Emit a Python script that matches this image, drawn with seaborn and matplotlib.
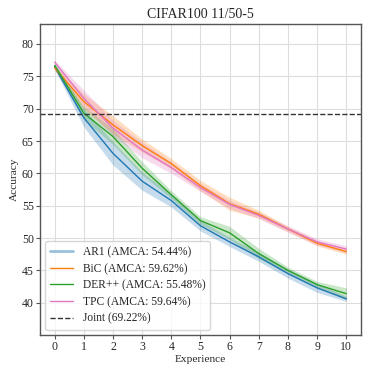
import numpy as np
import pandas as pd
import matplotlib
matplotlib.use("Agg")
import matplotlib.pyplot as plt
import seaborn as sns

# データ
experience = list(range(11))
methods = ["AR1", "BiC", "DER++", "TPC"]
amca = ["54.44%", "59.62%", "55.48%", "59.64%"]
ar1_mean = [76.5, 68.6, 63.1, 58.8, 55.8, 51.9, 49.4, 47.1, 44.5, 42.3, 40.6]
ar1_sd = [0.4, 1.4, 1.8, 1.4, 1.0, 0.8, 0.7, 0.7, 0.7, 0.7, 0.4]
bic_mean = [76.3, 71.1, 67.5, 64.3, 61.5, 58.1, 55.3, 53.7, 51.4, 49.2, 47.9]
bic_sd = [0.4, 1.2, 1.4, 1.0, 0.8, 0.8, 1.0, 0.6, 0.4, 0.4, 0.4]
der_mean = [76.7, 69.3, 65.7, 60.8, 56.7, 52.7, 50.8, 47.6, 45.0, 42.8, 41.4]
der_sd = [0.3, 1.0, 1.2, 1.0, 0.6, 0.6, 1.0, 0.8, 0.5, 0.5, 0.9]
tpc_mean = [77.2, 71.6, 67.0, 63.6, 60.9, 57.8, 55.2, 53.5, 51.4, 49.4, 48.3]
tpc_sd = [0.3, 1.3, 1.2, 1.2, 0.9, 0.6, 0.6, 0.5, 0.5, 0.5, 0.5]
joint = 69.22

means = [ar1_mean, bic_mean, der_mean, tpc_mean]
sds = [ar1_sd, bic_sd, der_sd, tpc_sd]
colors = ["tab:blue", "tab:orange", "tab:green", "tab:pink"]

sns.set_theme(style="whitegrid")
plt.rcParams['font.family'] = ['Liberation Serif', 'DejaVu Serif']

fig, ax = plt.subplots(figsize=(3.74, 3.74), dpi=100)
fig.subplots_adjust(left=0.107, right=0.965, top=0.936, bottom=0.104)

rows = []
for m, a, mean in zip(methods, amca, means):
    for e, v in zip(experience, mean):
        rows.append({"Experience": e, "Accuracy": v, "label": f"{m} (AMCA: {a})"})
df = pd.DataFrame(rows)

sns.lineplot(data=df, x="Experience", y="Accuracy", hue="label",
             palette=colors, linewidth=1.0, ax=ax)

# 標準偏差の帯
for mean, sd, c in zip(means, sds, colors):
    mean = np.array(mean)
    sd = np.array(sd)
    ax.fill_between(experience, mean - sd, mean + sd, color=c, alpha=0.25, linewidth=0)

ax.axhline(joint, color="#333333", linestyle="--", linewidth=1.0,
           label=f"Joint ({joint:.2f}%)")

ax.set_xlim(-0.5, 10.5)
ax.set_ylim(35, 83.1)
ax.set_xticks(experience)
ax.set_yticks([40, 45, 50, 55, 60, 65, 70, 75, 80])
ax.set_title("CIFAR100 11/50-5", fontsize=10, pad=4)
ax.set_xlabel("Experience", fontsize=8.2, labelpad=1)
ax.set_ylabel("Accuracy", fontsize=8.2, labelpad=2)
ax.tick_params(axis="both", labelsize=8.5, length=3, width=0.8,
               color="#555555", pad=1.5, left=True, bottom=True)
for s in ax.spines.values():
    s.set_color("#555555")
    s.set_linewidth(1.0)
ax.grid(True, color="#dddddd", linewidth=0.8)

handles, labels = ax.get_legend_handles_labels()
leg = ax.legend(handles, labels, loc="lower left", fontsize=8.3, frameon=True,
                handlelength=2.0, handletextpad=0.8, borderpad=0.45,
                labelspacing=0.4, borderaxespad=0.45)
leg.get_lines()[0].set_linewidth(2.0)
leg.get_lines()[0].set_alpha(0.45)

plt.savefig("out.png", dpi=100)
